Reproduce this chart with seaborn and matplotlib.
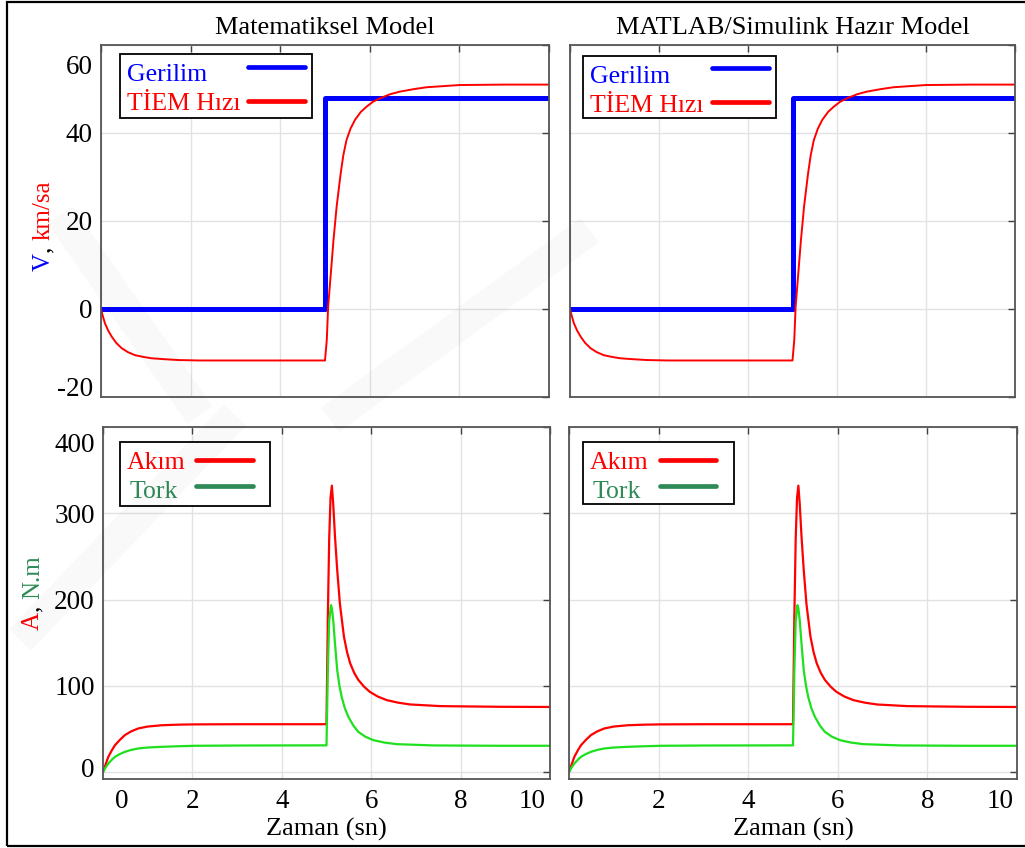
import matplotlib
matplotlib.use('Agg')
import seaborn as sns
from matplotlib import pyplot as plt
from matplotlib.lines import Line2D
from matplotlib.patches import Rectangle
from matplotlib.transforms import ScaledTranslation

# --- data (time in s) ---
gerilim_t = [0, 5.0, 5.0, 10.0]
gerilim_v = [0, 0, 48, 48]

hiz_t = [0, 0.04, 0.09, 0.16, 0.24, 0.34, 0.46, 0.6, 0.76, 0.95, 1.13, 1.4, 1.73, 2.2, 3.2, 5.0,
         5.04, 5.07, 5.13, 5.19, 5.26, 5.35, 5.41, 5.48, 5.57, 5.67, 5.8, 5.93, 6.07, 6.23, 6.45,
         6.67, 7.0, 7.27, 8.0, 9.0, 10.0]
hiz_v = [0, -1.6, -3.3, -4.9, -6.3, -7.7, -8.9, -9.8, -10.5, -10.9, -11.2, -11.4, -11.6, -11.7, -11.7, -11.7,
         -7.0, 0.5, 8.1, 15.7, 23.3, 30.8, 35.0, 38.4, 41.0, 43.0, 44.8, 46.0, 47.1, 47.9, 48.8,
         49.4, 50.0, 50.4, 50.9, 51.0, 51.0]

akim_t = [0, 0.06, 0.12, 0.2, 0.27, 0.38, 0.49, 0.63, 0.79, 1.0, 1.31, 1.7, 2.06, 3.0, 5.0,
          5.03, 5.06, 5.09, 5.12, 5.15, 5.19, 5.24, 5.30, 5.39, 5.46, 5.53, 5.62, 5.71, 5.84, 5.97,
          6.15, 6.35, 6.6, 6.87, 7.54, 8.0, 8.88, 10.0]
akim_v = [0, 9, 17.8, 25.5, 31.3, 37.5, 42.9, 47.2, 50.6, 52.8, 54.3, 55.0, 55.3, 55.5, 55.5,
          180, 270, 318, 332, 311, 273, 234, 195, 157, 139, 126, 115, 107, 99, 93,
          87.5, 83.4, 80.5, 78.4, 76.5, 76.2, 75.7, 75.5]

tork_t = [0, 0.06, 0.12, 0.2, 0.27, 0.38, 0.49, 0.63, 0.79, 1.0, 1.31, 1.7, 2.06, 3.0, 5.0,
          5.03, 5.06, 5.10, 5.12, 5.15, 5.19, 5.24, 5.29, 5.34, 5.41, 5.49, 5.6, 5.71, 5.87, 6.05,
          6.3, 6.57, 7.39, 8.88, 10.0]
tork_v = [0, 5.5, 10, 14.5, 17.8, 21, 23.5, 25.7, 27.4, 28.5, 29.3, 30.0, 30.5, 30.8, 31,
          118, 175, 193.5, 190, 176, 149, 118, 100, 87, 74, 64, 54, 46.7, 41, 37,
          34.2, 32.4, 30.9, 30.5, 30.5]

titles = ['Matematiksel Model', 'MATLAB/Simulink Hazır Model']
speed_labels = ['Gerilim', 'TİEM Hızı']
power_labels = ['Akım', 'Tork']
x_ticks = [0, 2, 4, 6, 8, 10]
speed_ticks = [-20, 0, 20, 40, 60]
power_ticks = [0, 100, 200, 300, 400]

BLUE = '#0000ff'
RED = '#ff0000'
GREEN = '#1ee01e'
SEAGREEN = '#2e8b57'
FS = 18.5
TICK_FS = 19.5

sns.set_theme(style='white')
plt.rcParams['font.family'] = ['Liberation Serif', 'DejaVu Serif']
plt.rcParams['axes.unicode_minus'] = False

fig = plt.figure(figsize=(10.25, 8.48), dpi=100)

W, H = 1025, 848


def fx(x):
    return x / W


def fy(y):
    return (H - y) / H


def px_rect(left, top, right, bottom):
    return [fx(left), fy(bottom), (right - left) / W, (bottom - top) / H]


ax_tl = fig.add_axes(px_rect(101, 45, 549, 397))
ax_tr = fig.add_axes(px_rect(570, 45, 1015, 397))
ax_bl = fig.add_axes(px_rect(103, 427, 550, 779))
ax_br = fig.add_axes(px_rect(569, 427, 1017, 779))


def shift(label, dx, dy):
    # dx, dy in pixels (dy positive = down)
    label.set_transform(label.get_transform() +
                        ScaledTranslation(dx / 100, -dy / 100, fig.dpi_scale_trans))


def style_axes(ax):
    ax.set_xlim(0, 10)
    ax.set_xticks(x_ticks)
    ax.grid(True, color='#e2e2e2', lw=1)
    ax.tick_params(direction='in', top=True, right=True, length=5, width=1,
                   colors='#404040', labelcolor='black', labelsize=TICK_FS, pad=7)
    ax.tick_params(axis='y', pad=6)
    for s in ax.spines.values():
        s.set_color('#555555')
        s.set_linewidth(1.3)
    ax.set_xlabel('')
    ax.set_ylabel('')


def draw_legend(box, line_x, line_dy, labels, text_colors, line_colors, indents=(0, 0)):
    # box = (left, top, right, bottom) in figure pixels, text left aligned, handle on the right
    l, t, r, b = box
    fig.patches.append(Rectangle((fx(l), fy(b)), (r - l) / W, (b - t) / H,
                                 transform=fig.transFigure, facecolor='white',
                                 edgecolor='black', lw=1.3, zorder=5))
    for i, (lab, tc, lc) in enumerate(zip(labels, text_colors, line_colors)):
        fig.text(fx(l + 7 + indents[i]), fy(t + 27 + 29 * i), lab, color=tc, fontsize=FS,
                 ha='left', va='baseline', zorder=6)
        y = t + line_dy[i]
        fig.add_artist(Line2D([fx(line_x[0]), fx(line_x[1])], [fy(y), fy(y)],
                              transform=fig.transFigure, color=lc, lw=3.4,
                              solid_capstyle='round', zorder=6))


for ax, title in [(ax_tl, titles[0]), (ax_tr, titles[1])]:
    sns.lineplot(x=gerilim_t, y=gerilim_v, ax=ax, color=BLUE, lw=3.6,
                 estimator=None, sort=False, legend=False)
    sns.lineplot(x=hiz_t, y=hiz_v, ax=ax, color=RED, lw=1.4,
                 estimator=None, sort=False, legend=False)
    style_axes(ax)
    ax.set_ylim(-20, 60)
    ax.set_yticks(speed_ticks)
    ax.tick_params(labelbottom=False)
    ax.set_title(title, fontsize=19, pad=8, color='black')

for ax in [ax_bl, ax_br]:
    sns.lineplot(x=akim_t, y=akim_v, ax=ax, color=RED, lw=1.6,
                 estimator=None, sort=False, legend=False)
    sns.lineplot(x=tork_t, y=tork_v, ax=ax, color=GREEN, lw=1.6,
                 estimator=None, sort=False, legend=False)
    style_axes(ax)
    ax.set_ylim(-8, 400)
    ax.set_yticks(power_ticks)
    ax.set_xlabel('Zaman (sn)', fontsize=19, labelpad=3, color='black')

ax_tr.tick_params(labelleft=False)
ax_br.tick_params(labelleft=False)

draw_legend((120, 54, 312, 118), (248, 305), (13, 47), speed_labels, [BLUE, RED], [BLUE, RED])
draw_legend((583, 56, 776, 118), (712, 769), (12, 46), speed_labels, [BLUE, RED], [BLUE, RED])
draw_legend((120, 442, 270, 506), (196, 253), (18, 44), power_labels, [RED, SEAGREEN],
            [RED, SEAGREEN], indents=(0, 3))
draw_legend((583, 442, 734, 504), (660, 716), (18, 44), power_labels, [RED, SEAGREEN],
            [RED, SEAGREEN], indents=(0, 3))

# edge tick labels sit inside the limits, as in the reference
yl = ax_tl.get_yticklabels()
shift(yl[-1], 0, 20)
shift(yl[0], 0, -10)
yl = ax_bl.get_yticklabels()
shift(yl[-1], 0, 15)
shift(yl[0], 0, -5)
xl = ax_bl.get_xticklabels()
shift(xl[0], 19, 0)
shift(xl[-1], -18, 0)
xl = ax_br.get_xticklabels()
shift(xl[0], 8, 0)
shift(xl[-1], -17, 0)


def colored_ylabel(x, y, parts):
    prev = fig.text(x, y, parts[0][0], color=parts[0][1], rotation=90,
                    ha='center', va='bottom', fontsize=18)
    for text, color in parts[1:]:
        prev = ax_tl.annotate(text, xy=(1, 1), xycoords=prev, color=color, rotation=90,
                              ha='right', va='bottom', fontsize=18, annotation_clip=False)


colored_ylabel(fx(44), fy(271), [('V', BLUE), (', ', 'black'), ('km/sa', RED)])
colored_ylabel(fx(33), fy(630), [('A', RED), (', ', 'black'), ('N.m', SEAGREEN)])

# very faint watermark bands
for (x0, y0), (x1, y1) in [((60, 215), (200, 415)), ((330, 420), (590, 230)), ((20, 640), (235, 415))]:
    fig.add_artist(Line2D([fx(x0), fx(x1)], [fy(y0), fy(y1)], transform=fig.transFigure,
                          color='black', alpha=0.025, lw=22, solid_capstyle='butt', zorder=10))

# outer frame of the figure
fig.patches.append(Rectangle((fx(7), fy(846)), 1.1, 844 / H, transform=fig.transFigure,
                             fill=False, edgecolor='black', lw=1.6, zorder=11))

fig.savefig('out.png', dpi=100)
